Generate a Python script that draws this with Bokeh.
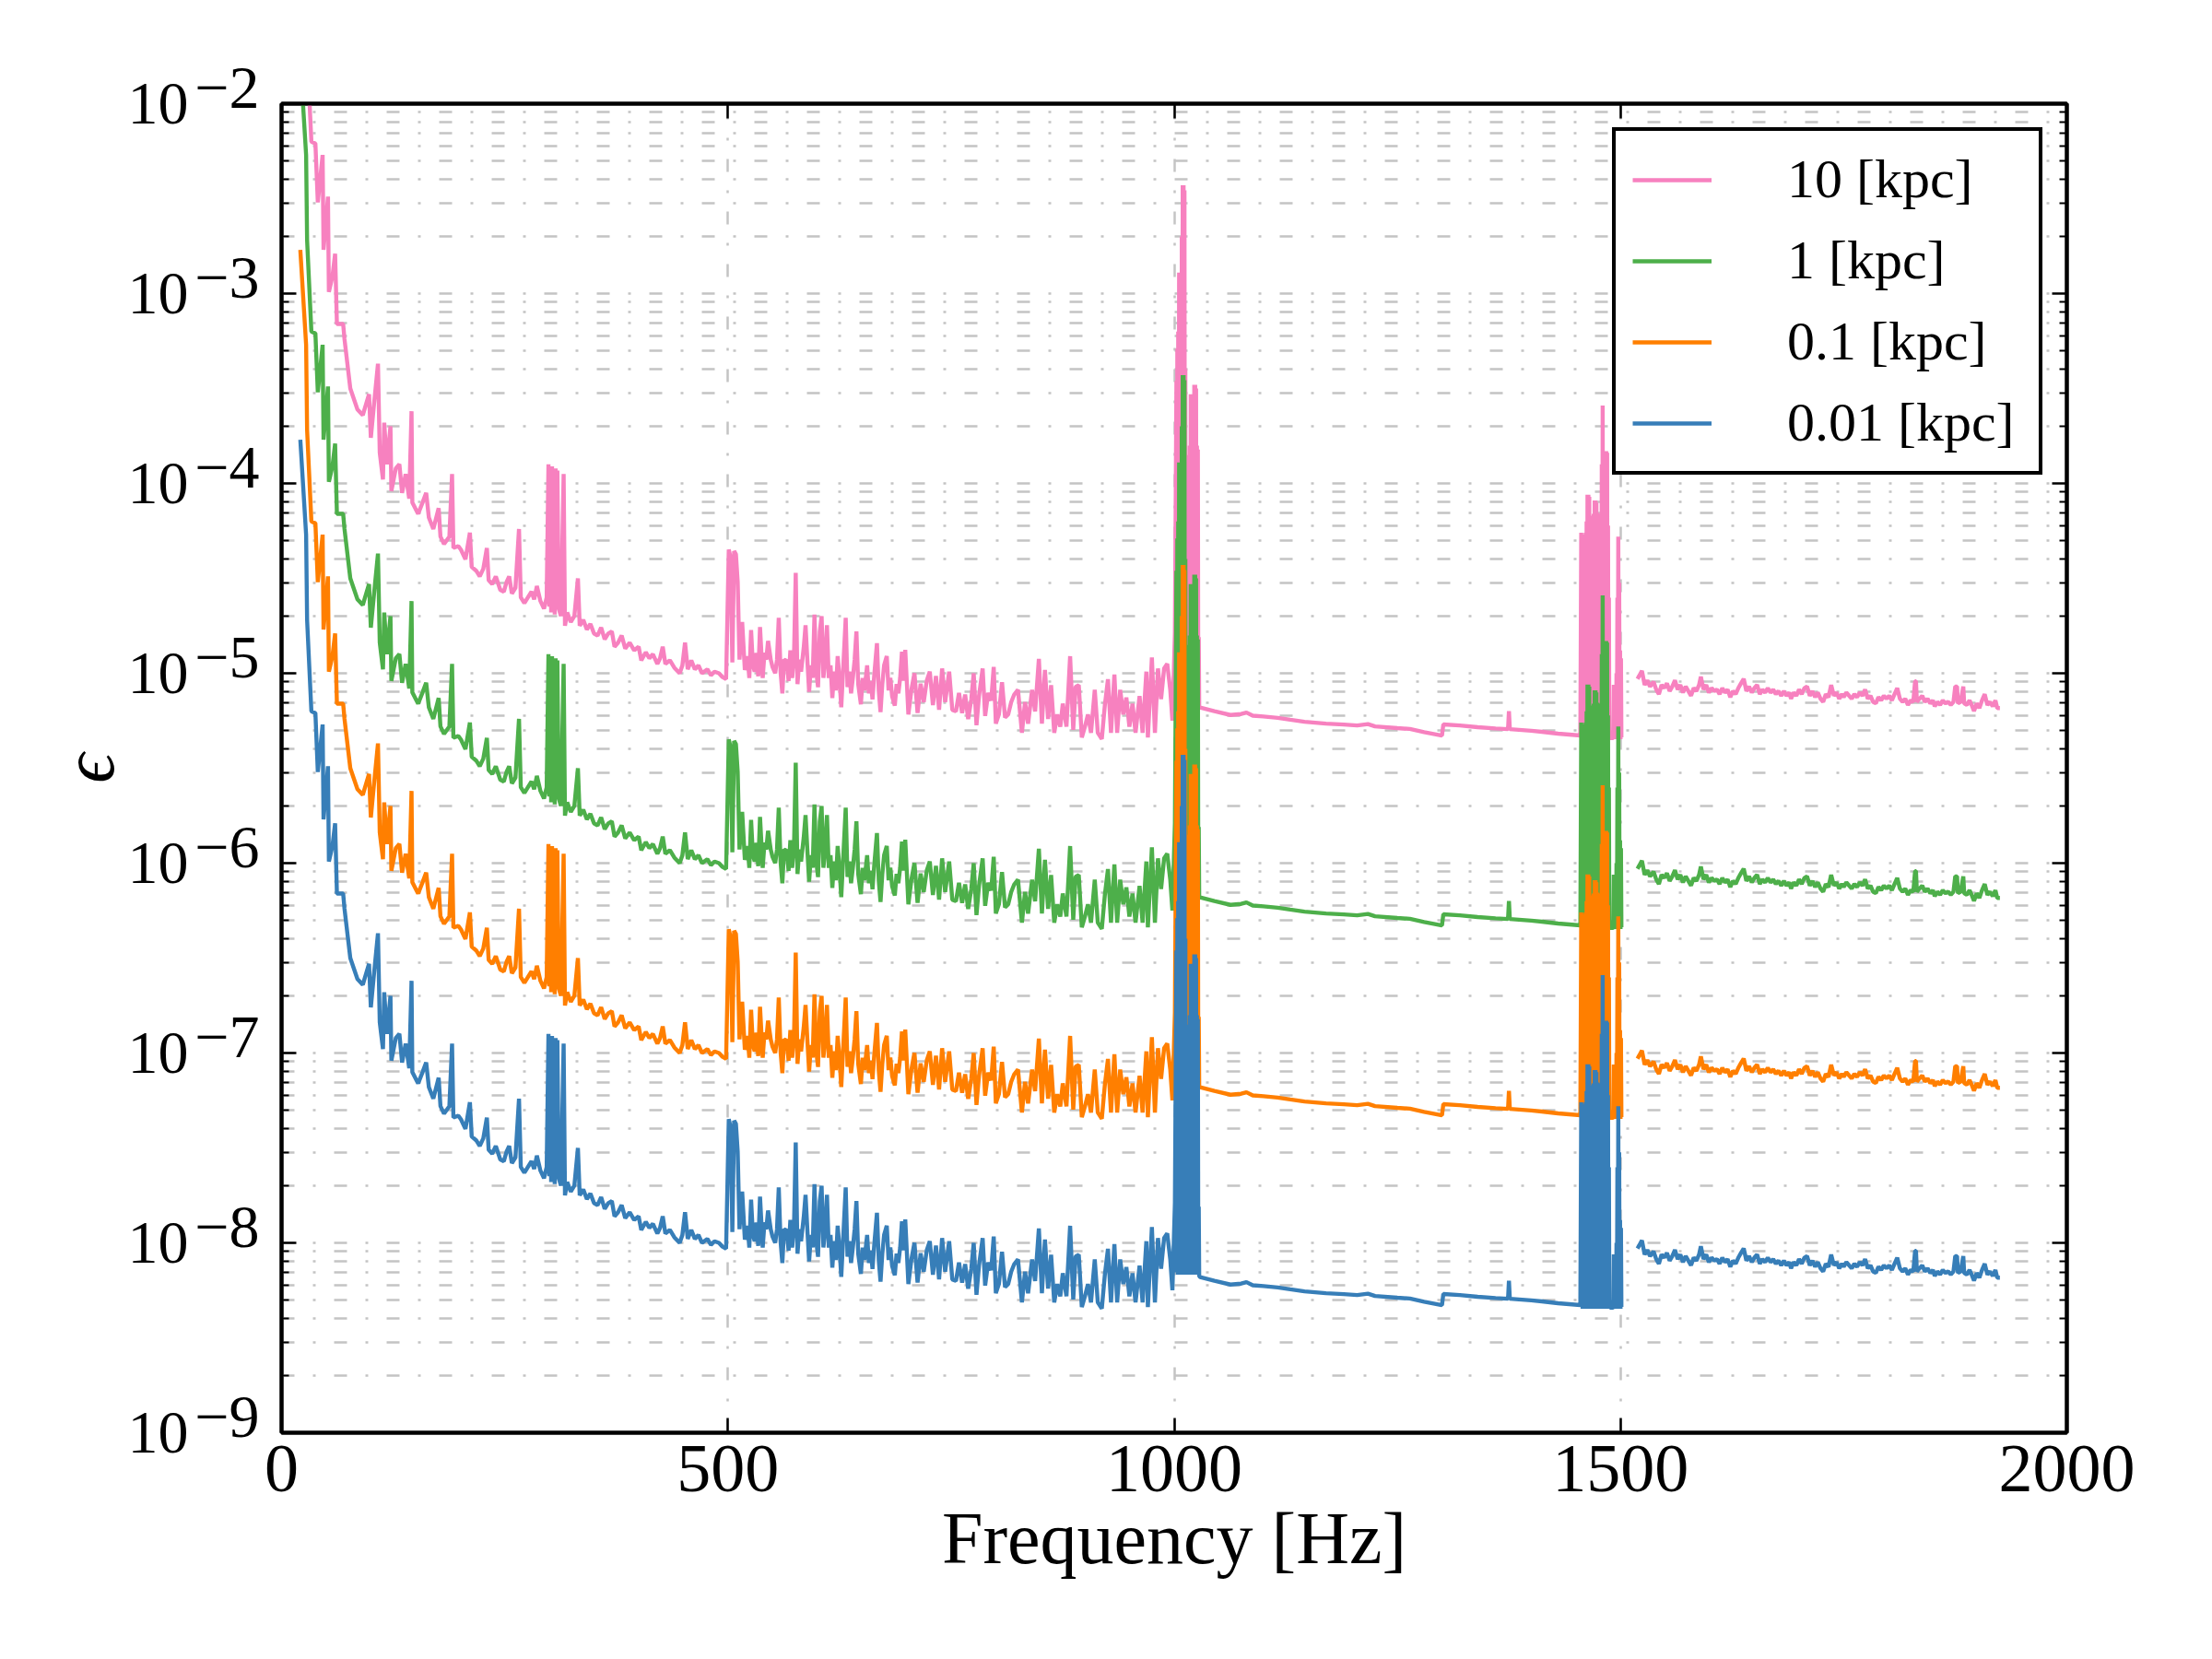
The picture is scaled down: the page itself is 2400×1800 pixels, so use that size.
import numpy as np
from bokeh.plotting import figure
from bokeh.models import (FixedTicker, LinearAxis, LogAxis, CustomJSTickFormatter, Range1d)
from bokeh.embed import file_html
from bokeh.resources import INLINE

NAN = float("nan")

# ---------------- data ----------------
distances_kpc = [10, 1, 0.1, 0.01]
series_labels = ["10 [kpc]", "1 [kpc]", "0.1 [kpc]", "0.01 [kpc]"]
series_colors = ["#f781bf", "#4daf4a", "#ff7f00", "#377eb8"]
x_tick_values = [0, 500, 1000, 1500, 2000]
y_tick_values = [1e-9, 1e-8, 1e-7, 1e-6, 1e-5, 1e-4, 1e-3, 1e-2]
y_tick_base = "10"
y_tick_exponents = ["\u22129", "\u22128", "\u22127", "\u22126", "\u22125", "\u22124", "\u22123", "\u22122"]

# epsilon for the 10 kpc curve: (frequency [Hz], epsilon)
eps10_low = [
    (21, 1.70e-1), (27.5, 5.37e-2), (28.6, 1.91e-2), (33.4, 6.31e-3), (37.9, 6.17e-3), (40.6, 3.02e-3),
    (46, 5.37e-3), (47, 1.70e-3), (52, 3.24e-3), (53, 1.02e-3), (57, 1.23e-3), (60, 1.62e-3),
    (62, 6.92e-4), (69, 6.92e-4), (70.5, 5.75e-4), (77, 3.16e-4), (85, 2.45e-4), (91, 2.29e-4),
    (98, 2.95e-4), (100, 1.74e-4), (103, 2.45e-4), (108, 4.27e-4), (110, 1.45e-4), (113.6, 1.05e-4),
    (115, 2.09e-4), (118, 1.26e-4), (122, 2.00e-4), (123, 9.12e-5), (128, 1.20e-4), (132, 1.26e-4),
    (135, 8.91e-5), (139, 1.12e-4), (143, 8.32e-5), (145.6, 2.40e-4), (146.5, 7.94e-5), (153, 6.92e-5),
    (158, 7.94e-5), (162, 8.91e-5), (165, 6.61e-5), (170, 5.75e-5), (176, 7.41e-5), (178, 5.25e-5),
    (182, 4.79e-5), (188, 5.25e-5), (191, 1.12e-4), (192.5, 4.57e-5), (198, 4.68e-5), (201, 4.47e-5),
    (206, 3.98e-5), (211, 5.50e-5), (213, 3.63e-5), (218, 3.47e-5), (222, 3.24e-5), (226, 3.55e-5),
    (230, 4.57e-5), (232, 3.09e-5), (236, 2.95e-5), (240, 3.24e-5), (245, 2.75e-5), (249, 2.69e-5),
    (252, 3.02e-5), (255, 3.24e-5), (258, 2.63e-5), (262, 2.82e-5), (266, 5.75e-5), (268, 2.51e-5),
    (272, 2.34e-5), (276, 2.51e-5), (280, 2.69e-5), (283, 2.45e-5), (286, 2.88e-5), (290, 2.40e-5),
    (294, 2.19e-5), (297, 2.51e-5), (299, 1.26e-4), (300, 2.24e-5), (301, 1.23e-4), (302, 2.09e-5),
    (303, 1.23e-4), (304, 2.19e-5), (305, 1.20e-4), (306, 2.04e-5), (307, 1.20e-4), (308, 2.40e-5),
    (309, 1.17e-4), (310.5, 2.19e-5), (313, 2.00e-5), (316, 1.12e-4), (317.5, 1.78e-5), (320, 2.09e-5),
    (324, 1.86e-5), (328, 2.00e-5), (332, 3.16e-5), (334, 1.78e-5), (338, 1.91e-5), (342, 1.70e-5),
    (346, 1.82e-5), (350, 1.62e-5), (354, 1.58e-5), (358, 1.74e-5), (362, 1.51e-5), (366, 1.62e-5),
    (370, 1.66e-5), (373, 1.38e-5), (377, 1.45e-5), (381, 1.58e-5), (385, 1.35e-5), (390, 1.45e-5),
    (395, 1.32e-5), (400, 1.38e-5), (403, 1.17e-5), (408, 1.29e-5), (412, 1.20e-5), (416, 1.26e-5),
    (421, 1.12e-5), (424, 1.20e-5), (427, 1.38e-5), (430, 1.12e-5), (435, 1.17e-5), (440, 1.07e-5),
    (446, 1.00e-5), (449, 1.10e-5), (452, 1.45e-5), (455, 1.05e-5), (459, 1.17e-5), (463, 1.05e-5),
    (467, 1.10e-5), (471, 1.00e-5), (477, 1.05e-5), (481, 9.77e-6), (485, 1.02e-5), (490, 1.00e-5),
    (494, 9.55e-6), (498, 9.33e-6),
]

eps10_mid = [
    (501, 4.48e-5), (503, 4.08e-5), (505, 1.14e-5), (507, 4.40e-5), (509, 4.24e-5), (511, 3.02e-5),
    (513, 1.18e-5), (516, 1.86e-5), (519, 1.04e-5), (522, 1.23e-5), (524, 9.45e-6), (526, 1.69e-5),
    (528, 1.10e-5), (530, 1.02e-5), (532, 1.28e-5), (534, 9.64e-6), (536, 1.75e-5), (539, 9.45e-6),
    (541, 1.28e-5), (543, 1.18e-5), (545, 1.48e-5), (548, 1.18e-5), (550, 1.08e-5), (553, 1.00e-5),
    (555, 1.18e-5), (557, 1.96e-5), (559, 1.02e-5), (561, 7.84e-6), (563, 1.18e-5), (566, 1.16e-5),
    (568, 9.10e-6), (570, 1.32e-5), (572, 9.45e-6), (574, 1.18e-5), (576, 3.38e-5), (578, 8.77e-6),
    (580, 1.18e-5), (582, 1.02e-5), (585, 1.37e-5), (587, 1.79e-5), (589, 1.18e-5), (591, 7.98e-6),
    (593, 1.10e-5), (595, 9.45e-6), (597, 2.04e-5), (599, 1.02e-5), (601, 8.45e-6), (603, 1.66e-5),
    (605, 2.00e-5), (607, 9.45e-6), (609, 1.18e-5), (611, 1.79e-5), (613, 9.45e-6), (615, 1.10e-5),
    (617, 7.41e-6), (619, 1.02e-5), (621, 8.13e-6), (623, 1.23e-5), (625, 9.45e-6), (627, 6.62e-6),
    (629, 1.02e-5), (632, 1.96e-5), (634, 8.45e-6), (636, 1.02e-5), (638, 7.84e-6), (640, 9.45e-6),
    (642, 1.18e-5), (644, 1.66e-5), (646, 8.77e-6), (649, 6.87e-6), (651, 9.45e-6), (653, 8.13e-6),
    (656, 1.10e-5), (658, 7.84e-6), (660, 9.10e-6), (662, 7.28e-6), (664, 9.82e-6), (667, 1.44e-5),
    (669, 8.13e-6), (671, 6.25e-6), (673, 8.77e-6), (675, 1.10e-5), (678, 1.23e-5), (680, 8.13e-6),
    (682, 9.45e-6), (684, 7.55e-6), (687, 6.75e-6), (689, 8.77e-6), (691, 7.84e-6), (693, 9.45e-6),
    (695, 1.30e-5),
]

eps10_mid_b = [
    (697.0, 9.14e-6), (698.7, 1.33e-5), (702.2, 6.07e-6), (705.6, 8.18e-6), (709.0, 1.00e-5), (712.5, 6.18e-6),
    (715.9, 8.81e-6), (719.4, 7.05e-6), (722.8, 9.14e-6), (726.2, 1.02e-5), (729.7, 6.79e-6), (733.1, 9.67e-6),
    (736.6, 6.42e-6), (740.0, 1.06e-5), (743.4, 7.05e-6), (747.9, 1.02e-5), (751.4, 6.42e-6), (755.5, 6.30e-6),
    (758.9, 7.88e-6), (762.4, 6.18e-6), (765.8, 7.73e-6), (769.2, 5.74e-6), (772.7, 7.31e-6), (775.4, 1.00e-5),
    (778.5, 5.33e-6), (781.3, 7.59e-6), (785.4, 1.06e-5), (788.2, 5.96e-6), (791.6, 7.88e-6), (795.0, 7.18e-6),
    (797.8, 1.08e-5), (800.2, 5.43e-6), (803.6, 6.07e-6), (807.1, 8.97e-6), (810.5, 5.85e-6), (814.0, 6.07e-6),
    (817.4, 7.05e-6), (820.8, 7.73e-6), (825.0, 8.18e-6), (829.4, 4.86e-6), (832.9, 7.05e-6), (836.3, 5.43e-6),
    (840.8, 8.18e-6), (844.2, 6.30e-6), (848.4, 1.19e-5), (851.8, 5.43e-6), (855.2, 1.04e-5), (858.7, 5.74e-6),
    (862.1, 8.65e-6), (865.6, 4.86e-6), (869.0, 6.07e-6), (872.4, 5.23e-6), (875.2, 6.92e-6), (879.3, 5.23e-6),
    (883.4, 1.23e-5), (886.9, 5.04e-6), (889.6, 8.49e-6), (893.1, 8.65e-6), (896.5, 4.59e-6), (900.0, 5.23e-6),
    (903.4, 6.07e-6), (906.8, 4.86e-6), (911.0, 8.18e-6), (914.4, 4.86e-6), (918.9, 4.51e-6), (922.3, 6.79e-6),
    (925.8, 9.31e-6), (929.2, 4.86e-6), (933.0, 9.86e-6), (936.1, 4.86e-6), (939.5, 8.18e-6), (943.0, 6.07e-6),
    (946.4, 7.45e-6), (949.8, 5.23e-6), (953.3, 6.92e-6), (956.7, 4.86e-6), (961.2, 7.59e-6), (964.6, 4.86e-6),
    (968.8, 1.02e-5), (970.5, 4.59e-6), (975.0, 1.21e-5), (978.4, 4.86e-6), (981.8, 1.06e-5), (985.3, 7.31e-6),
    (988.7, 1.06e-5), (992.2, 1.12e-5), (995.6, 8.18e-6), (998.0, 5.63e-6), (1000.8, 1.63e-5),
]

eps10_line_1000hz = [
    (1002.5, 3.47e-4), (1003, 7.0e-6), (1003.5, 5.13e-4), (1004, 6.8e-6), (1004.5, 6.31e-4), (1005, 7.2e-6),
    (1005.5, 1.29e-3), (1006, 6.9e-6), (1006.5, 1.29e-3), (1007, 7.1e-6), (1007.5, 1.29e-3), (1008, 6.8e-6),
    (1008.5, 2.0e-3), (1009, 7.0e-6), (1009.5, 3.72e-3), (1010, 6.9e-6), (1010.5, 3.72e-3), (1011, 7.2e-6),
    (1011.5, 3.5e-3), (1012, 6.8e-6), (1012.5, 4.0e-4), (1013, 7.0e-6), (1013.5, 1.35e-4), (1014, 6.9e-6),
    (1014.5, 1.35e-4), (1015, 7.1e-6), (1015.5, 1.35e-4), (1016, 6.8e-6), (1016.5, 1.41e-4), (1017, 7.0e-6),
    (1017.5, 1.58e-4), (1018, 6.9e-6), (1018.5, 2.95e-4), (1019, 7.1e-6), (1019.5, 2.95e-4), (1020, 6.8e-6),
    (1020.5, 2.82e-4), (1021, 7.0e-6), (1021.5, 2.4e-4), (1022, 6.9e-6), (1022.5, 3.31e-4), (1023, 7.1e-6),
    (1023.5, 3.31e-4), (1024, 6.8e-6), (1024.5, 3.16e-4), (1025, 7.0e-6), (1025.5, 1.58e-4), (1026, 6.9e-6),
    (1026.5, 1.51e-4), (1027, 7.1e-6), (1027.5, 1.55e-5), (1028, 6.7e-6),
]

eps10_smooth = [
    (1029, 6.61e-6), (1045, 6.31e-6), (1063, 6.03e-6), (1075, 6.10e-6), (1081, 6.21e-6), (1088, 5.98e-6),
    (1100, 5.92e-6), (1116, 5.82e-6), (1130, 5.69e-6), (1146, 5.55e-6), (1170, 5.43e-6), (1190, 5.37e-6),
    (1205, 5.31e-6), (1217, 5.40e-6), (1225, 5.25e-6), (1250, 5.14e-6), (1264, 5.09e-6), (1280, 4.90e-6),
    (1300, 4.70e-6), (1301.5, 5.38e-6), (1320, 5.31e-6), (1340, 5.20e-6), (1360, 5.12e-6), (1374, 5.08e-6),
    (1375, 6.31e-6), (1376, 5.08e-6), (1400, 4.98e-6), (1412, 4.92e-6), (1430, 4.81e-6), (1455, 4.70e-6),
]

eps10_line_1480hz = [
    (1456, 5.50e-5), (1456.5, 4.6e-6), (1457, 5.37e-5), (1457.5, 4.5e-6), (1458, 5.37e-5), (1458.5, 4.6e-6),
    (1459, 5.25e-5), (1459.5, 4.5e-6), (1460, 5.01e-5), (1460.5, 4.6e-6), (1461, 5.50e-5), (1461.5, 4.5e-6),
    (1462, 6.31e-5), (1462.5, 4.6e-6), (1463, 8.71e-5), (1463.5, 4.5e-6), (1464, 8.71e-5), (1464.5, 4.6e-6),
    (1465, 8.51e-5), (1465.5, 4.5e-6), (1466, 6.31e-5), (1466.5, 4.6e-6), (1467, 6.76e-5), (1467.5, 4.5e-6),
    (1468, 6.76e-5), (1468.5, 4.6e-6), (1469, 6.61e-5), (1469.5, 4.5e-6), (1470, 6.92e-5), (1470.5, 4.6e-6),
    (1471, 8.13e-5), (1471.5, 4.5e-6), (1472, 8.13e-5), (1472.5, 4.6e-6), (1473, 7.94e-5), (1473.5, 4.5e-6),
    (1474, 7.00e-5), (1474.5, 4.6e-6), (1475, 6.92e-5), (1475.5, 4.5e-6), (1476, 6.92e-5), (1476.5, 4.6e-6),
    (1477, 6.76e-5), (1477.5, 4.5e-6), (1478, 6.92e-5), (1478.5, 4.6e-6), (1479, 1.26e-4), (1479.5, 4.5e-6),
    (1480, 2.57e-4), (1480.5, 4.6e-6), (1481, 1.0e-5), (1481.5, 4.5e-6), (1482, 3.16e-5), (1482.5, 4.6e-6),
    (1483, 1.20e-4), (1483.5, 4.5e-6), (1484, 1.48e-4), (1484.5, 4.6e-6), (1485, 1.45e-4), (1485.5, 4.5e-6),
    (1486, 6.0e-5), (1486.5, 4.6e-6), (1487, 2.5e-5), (1487.5, 4.5e-6), (1488, 5.0e-6), (1489, 4.6e-6),
    (1490, 4.5e-6), (1491, 4.6e-6), (1492, 4.5e-6), (1492.5, 8.7e-6), (1493, 4.6e-6), (1493.5, 8.3e-6),
    (1494, 4.5e-6), (1494.5, 7.9e-6), (1495, 4.6e-6), (1495.5, 1.0e-5), (1496, 4.5e-6), (1496.5, 2.5e-5),
    (1497, 4.6e-6), (1497.5, 5.25e-5), (1498, 4.5e-6), (1498.5, 3.0e-5), (1499, 4.6e-6), (1499.5, 1.32e-5),
    (1500, 4.5e-6), (1500.5, 1.2e-5), (1501, 4.6e-6), (1501.5, 4.57e-6),
]

# no data between ~1502 Hz and ~1518 Hz
eps10_gap = [(1510, NAN)]

eps10_high = [
    (1519, 9.35e-6), (1521, 9.70e-6), (1524, 1.03e-5), (1527, 8.68e-6), (1530, 9.18e-6), (1533, 8.52e-6),
    (1537, 9.01e-6), (1540, 8.21e-6), (1543, 7.76e-6), (1546, 8.68e-6), (1549, 8.36e-6), (1552, 8.85e-6),
    (1555, 8.06e-6), (1558, 8.52e-6), (1561, 9.18e-6), (1564, 8.21e-6), (1567, 8.68e-6), (1570, 7.91e-6),
    (1573, 8.52e-6), (1576, 8.06e-6), (1579, 7.62e-6), (1582, 8.36e-6), (1585, 8.06e-6), (1588, 8.68e-6),
    (1590, 9.60e-6), (1593, 8.21e-6), (1596, 8.68e-6), (1599, 7.91e-6), (1602, 8.36e-6), (1605, 8.06e-6),
    (1608, 8.21e-6), (1611, 7.76e-6), (1614, 8.36e-6), (1617, 7.91e-6), (1620, 8.21e-6), (1623, 7.48e-6),
    (1626, 8.06e-6), (1629, 7.76e-6), (1632, 8.36e-6), (1635, 8.85e-6), (1638, 9.35e-6), (1641, 8.06e-6),
    (1644, 8.52e-6), (1647, 7.91e-6), (1650, 8.36e-6), (1653, 8.68e-6), (1656, 7.76e-6), (1659, 8.21e-6),
    (1662, 7.91e-6), (1665, 8.36e-6), (1668, 7.91e-6), (1671, 8.21e-6), (1674, 7.76e-6), (1677, 8.06e-6),
    (1680, 7.62e-6), (1683, 8.06e-6), (1686, 7.62e-6), (1689, 7.91e-6), (1691, 7.34e-6), (1694, 7.91e-6),
    (1697, 7.62e-6), (1700, 8.21e-6), (1703, 7.76e-6), (1706, 8.36e-6), (1709, 8.52e-6), (1712, 7.62e-6),
    (1715, 8.06e-6), (1718, 7.48e-6), (1721, 7.91e-6), (1724, 7.34e-6), (1727, 7.07e-6), (1730, 7.76e-6),
    (1733, 7.48e-6), (1736, 8.68e-6), (1739, 7.62e-6), (1742, 7.91e-6), (1745, 7.34e-6), (1748, 7.76e-6),
    (1750, 7.48e-6), (1753, 7.91e-6), (1756, 7.62e-6), (1759, 7.34e-6), (1762, 7.76e-6), (1765, 7.48e-6),
    (1768, 7.91e-6), (1771, 7.62e-6), (1774, 8.21e-6), (1777, 7.34e-6), (1780, 7.62e-6), (1783, 7.07e-6),
    (1786, 6.94e-6), (1789, 7.48e-6), (1792, 7.20e-6), (1795, 7.62e-6), (1798, 7.34e-6), (1801, 7.62e-6),
    (1804, 7.20e-6), (1807, 7.76e-6), (1810, 8.36e-6), (1813, 7.34e-6), (1816, 7.07e-6), (1819, 7.34e-6),
    (1822, 6.81e-6), (1825, 7.20e-6), (1828, 7.07e-6), (1830, 9.08e-6), (1831, 9.08e-6), (1832, 7.07e-6),
    (1835, 7.34e-6), (1838, 7.62e-6), (1841, 7.07e-6), (1844, 7.34e-6), (1847, 6.94e-6), (1850, 7.20e-6),
    (1852, 6.69e-6), (1855, 7.07e-6), (1858, 6.81e-6), (1861, 7.20e-6), (1864, 6.94e-6), (1867, 7.07e-6),
    (1870, 6.81e-6), (1873, 7.07e-6), (1875, 8.52e-6), (1877, 8.52e-6), (1878, 6.94e-6), (1881, 7.07e-6),
    (1884, 8.52e-6), (1885, 6.94e-6), (1888, 6.81e-6), (1891, 7.20e-6), (1894, 6.69e-6), (1896, 6.32e-6),
    (1899, 6.94e-6), (1902, 6.56e-6), (1905, 7.20e-6), (1908, 7.76e-6), (1911, 6.81e-6), (1914, 7.07e-6),
    (1917, 6.69e-6), (1920, 7.20e-6), (1922, 6.56e-6), (1925, 6.56e-6),
]

segments = [eps10_low, eps10_mid, eps10_mid_b, eps10_line_1000hz, eps10_smooth,
            eps10_line_1480hz, eps10_gap, eps10_high]
freq_hz = np.array([f for seg in segments for f, _ in seg], dtype=float)
eps_10kpc = np.array([e for seg in segments for _, e in seg], dtype=float)

# ---------------- figure ----------------
FONT = "Liberation Serif"

p = figure(
    frame_width=1937, frame_height=1442,
    x_range=Range1d(0, 2000), y_range=Range1d(1e-9, 1e-2),
    y_axis_type="log",
    output_backend="svg", toolbar_location=None,
    min_border_left=305, min_border_right=142, min_border_top=112, min_border_bottom=230,
    background_fill_color="white", border_fill_color="white",
    outline_line_color="black", outline_line_width=4,
)

# epsilon scales linearly with distance
for d, label, color in zip(distances_kpc, series_labels, series_colors):
    p.line(freq_hz, eps_10kpc * (d / distances_kpc[0]), line_color=color, line_width=4.4,
           legend_label=label)

x_ticker = FixedTicker(ticks=x_tick_values)
minor_y = [m * 10.0 ** k for k in range(-9, -2) for m in range(2, 10)]
y_ticker = FixedTicker(ticks=y_tick_values, minor_ticks=minor_y)
blank = CustomJSTickFormatter(code="return '';")

def style_axis(ax):
    ax.axis_line_color = "black"
    ax.axis_line_width = 4
    ax.major_tick_in = 16
    ax.major_tick_out = 0
    ax.minor_tick_in = 8
    ax.minor_tick_out = 0
    ax.major_tick_line_color = "black"
    ax.major_tick_line_width = 2.5
    ax.minor_tick_line_color = "black"
    ax.minor_tick_line_width = 2
    ax.major_label_text_font = FONT
    ax.major_label_text_color = "black"
    ax.axis_label_text_font = FONT
    ax.axis_label_text_color = "black"

xa = p.xaxis[0]
style_axis(xa)
xa.ticker = x_ticker
xa.minor_tick_line_color = None
xa.major_label_text_font_size = "74px"
xa.major_label_standoff = 14
xa.axis_label = "Frequency [Hz]"
xa.axis_label_text_font_size = "80px"
xa.axis_label_text_font_style = "normal"
xa.axis_label_standoff = 4

# inner left axis: ticks + the raised exponent part of "10^n"
ya = p.yaxis[0]
style_axis(ya)
ya.ticker = y_ticker
ya.major_label_overrides = {v: e + "\n " for v, e in zip(y_tick_values, y_tick_exponents)}
ya.major_label_text_font_size = "66px"
ya.major_label_text_line_height = 0.5
ya.major_label_standoff = 24

# outer left axis: the "10" part and the axis label
base_axis = LogAxis(ticker=FixedTicker(ticks=y_tick_values))
style_axis(base_axis)
base_axis.axis_line_color = None
base_axis.major_tick_line_color = None
base_axis.minor_tick_line_color = None
base_axis.major_label_overrides = {v: y_tick_base for v in y_tick_values}
base_axis.major_label_text_font_size = "66px"
base_axis.major_label_standoff = 4
base_axis.axis_label = "\u03f5"
base_axis.axis_label_text_font_size = "80px"
base_axis.axis_label_text_font_style = "italic"
base_axis.axis_label_standoff = -4
p.add_layout(base_axis, "left")

top_axis = LinearAxis(ticker=x_ticker, formatter=blank, major_label_text_font_size="1px")
style_axis(top_axis)
top_axis.minor_tick_line_color = None
p.add_layout(top_axis, "above")

right_axis = LogAxis(ticker=y_ticker, formatter=blank, major_label_text_font_size="1px")
style_axis(right_axis)
p.add_layout(right_axis, "right")

# grid
for g in (p.xgrid, p.ygrid):
    g.grid_line_color = "#c4c4c4"
    g.grid_line_width = 2.5
    g.grid_line_dash = "14 20 3 20"
p.xgrid.ticker = x_ticker
p.ygrid.ticker = y_ticker
p.ygrid.minor_grid_line_color = "#c4c4c4"
p.ygrid.minor_grid_line_width = 2.5
p.ygrid.minor_grid_line_dash = "14 20 3 20"

# legend
lg = p.legend[0]
lg.location = "top_right"
lg.margin = 26
lg.padding = 18
lg.spacing = 19
lg.glyph_width = 86
lg.glyph_height = 68
lg.label_height = 68
lg.label_width = 255
lg.label_standoff = 82
lg.label_text_font = FONT
lg.label_text_font_size = "60px"
lg.label_text_color = "black"
lg.border_line_color = "black"
lg.border_line_alpha = 1.0
lg.border_line_width = 4
lg.background_fill_color = "white"
lg.background_fill_alpha = 1.0

open("out.html", "w").write(file_html(p, INLINE))
